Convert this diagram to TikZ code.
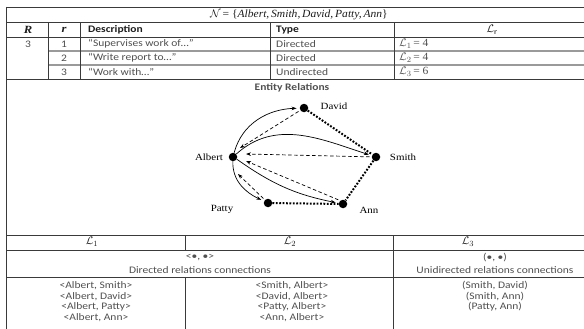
\documentclass[tikz,border=0pt]{standalone}
\usepackage{fontspec}
\setmainfont{Carlito}[FakeStretch=1.15]
\newfontfamily\grserif{Liberation Serif}[FakeStretch=1.15]
\newfontfamily\mserif{Liberation Serif}[FakeStretch=1.05]
\usetikzlibrary{arrows.meta}
\definecolor{txt}{HTML}{505050}
\definecolor{hdr}{HTML}{1E1E1E}
\definecolor{ruledark}{HTML}{3A3A3A}
\definecolor{rulelight}{HTML}{9A9A9A}
\newcommand{\titleformula}{$\mathcal{N}$\,{\mserif = \{\itshape Albert,\,Smith,\,David,\,Patty,\,Ann\/\upshape\}}}
\newcommand{\lval}[2]{$\mathcal{L}_{#1}$\,{\mserif = #2}}
\tikzset{
  cell/.style={font=\fontsize{10}{11}\selectfont, text=txt, inner sep=0pt},
  hcell/.style={font=\fontsize{10}{11}\selectfont\bfseries, text=hdr, inner sep=0pt},
  mcell/.style={text=hdr, inner sep=0pt, font=\fontsize{11}{12}\selectfont},
  lcell/.style={cell, anchor=west},
  hr/.style={draw=ruledark, line width=0.8pt},
  hrl/.style={draw=rulelight, line width=1.1pt},
  dot/.style={circle, fill=black, minimum size=8.5pt, inner sep=0pt},
  lab/.style={font=\grserif\fontsize{9.5}{10}\selectfont, text=black, inner sep=0pt},
  tip/.style={-{Stealth[length=5pt,width=3.6pt]}},
  sol/.style={draw=black, line width=0.7pt, tip, shorten >=3pt},
  dsh/.style={draw=black, line width=0.7pt, dash pattern=on 3.5pt off 2.5pt, tip, shorten <=2pt},
  dtt/.style={draw=black, line width=2pt, dash pattern=on 1.8pt off 1.6pt},
}
\begin{document}
\begin{tikzpicture}[x=1pt,y=-1pt]
\useasboundingbox (0,0) rectangle (584,329);
\fill[white] (0,0) rectangle (584,329);
% ---------- rules ----------
\draw[hr] (6,7) -- (584,7);
\draw[hr] (6,7) -- (6,329);
\draw[hr] (6,22.7) -- (584,22.7);
\draw[hr] (6,37) -- (584,37);
\draw[hrl] (48,51) -- (584,51);
\draw[hrl] (48,65) -- (584,65);
\draw[hr] (6,79) -- (584,79);
\draw[hr] (48,22.7) -- (48,79);
\draw[hr] (80,22.7) -- (80,79);
\draw[hr] (270,22.7) -- (270,79);
\draw[hr] (394,22.7) -- (394,79);
\draw[hr] (6,235) -- (584,235);
\draw[hr] (6,250) -- (584,250);
\draw[hr] (6,277) -- (584,277);
\draw[hr] (185,235) -- (185,250);
\draw[hr] (185,277) -- (185,329);
\draw[hr] (393,235) -- (393,329);
% ---------- top table text ----------
\node[mcell] (title) at (299,15) {\titleformula};
\node[mcell] (hR) at (28,30) {\grserif\bfseries\itshape R};
\node[mcell] (hsr) at (64,30) {\grserif\bfseries\itshape r};
\node[hcell, anchor=west] (hD) at (88,30) {Description};
\node[hcell, anchor=west] (hT) at (276,30) {Type};
\node[mcell] (hL) at (492,30) {$\mathcal{L}_{\mathrm{r}}$};
\node[cell] (R3) at (28,44) {3};
\node[cell] (r1) at (64,44) {1};
\node[cell] (r2) at (64,58) {2};
\node[cell] (r3) at (64,72) {3};
\node[lcell] (d1) at (88,44) {“Supervises work of…”};
\node[lcell] (d2) at (88,58) {“Write report to…”};
\node[lcell] (d3) at (88,72) {“Work with…”};
\node[lcell] (t1) at (276,44) {Directed};
\node[lcell] (t2) at (276,58) {Directed};
\node[lcell] (t3) at (276,72) {Undirected};
\node[mcell, anchor=west, text=txt] (l1) at (399,44) {\lval{1}{4}};
\node[mcell, anchor=west, text=txt] (l2) at (399,58) {\lval{2}{4}};
\node[mcell, anchor=west, text=txt] (l3) at (399,72) {\lval{3}{6}};
% ---------- graph ----------
\node[hcell, text=txt] (er) at (292,88) {Entity Relations};
\node[dot] (A) at (233,157) {};
\node[dot] (D) at (304,108) {};
\node[dot] (S) at (376,157) {};
\node[dot] (P) at (268,203) {};
\node[dot] (N) at (343,204) {};
\node[lab] (lA) at (209,157) {Albert};
\node[lab] (lD) at (334,106) {David};
\node[lab] (lS) at (403,157) {Smith};
\node[lab] (lP) at (222,209) {Patty};
\node[lab] (lN) at (369,210) {Ann};
\coordinate (aD) at (240,148);
\coordinate (aS) at (246,154);
\coordinate (aN) at (246,161);
\coordinate (aP) at (238,174);
\draw[dtt] (D) -- (S);
\draw[dtt] (S) -- (N);
\draw[dtt] (P) -- (N);
\draw[sol] (A) to[out=75,in=182] (D);
\draw[sol] (A) to[out=42,in=162] (S);
\draw[sol] (A) to[out=-92,in=155] (P);
\draw[sol] (A.-30) to[bend right=12] (N);
\draw[dsh] (D) -- (aD);
\draw[dsh] (S) -- (aS);
\draw[dsh] (N.130) -- (aN);
\draw[dsh] (P) -- (aP);
% ---------- bottom table ----------
\node[mcell] (L1) at (92,242) {$\mathcal{L}_1$};
\node[mcell] (L2) at (290,242) {$\mathcal{L}_2$};
\node[mcell] (L3) at (468,242) {$\mathcal{L}_3$};
\node[cell] (dir1) at (200,258) {<•, •>};
\node[cell] (dir2) at (200,270) {Directed relations connections};
\node[cell] (und1) at (495,258) {(•, •)};
\node[cell] (und2) at (495,270) {Unidirected relations connections};
\node[cell] (a1) at (96,286) {<Albert, Smith>};
\node[cell] (a2) at (96,296.5) {<Albert, David>};
\node[cell] (a3) at (96,307) {<Albert, Patty>};
\node[cell] (a4) at (96,317.5) {<Albert, Ann>};
\node[cell] (b1) at (292,286) {<Smith, Albert>};
\node[cell] (b2) at (292,296.5) {<David, Albert>};
\node[cell] (b3) at (292,307) {<Patty, Albert>};
\node[cell] (b4) at (292,317.5) {<Ann, Albert>};
\node[cell] (c1) at (495,286) {(Smith, David)};
\node[cell] (c2) at (495,296.5) {(Smith, Ann)};
\node[cell] (c3) at (495,307) {(Patty, Ann)};
\end{tikzpicture}
\end{document}
